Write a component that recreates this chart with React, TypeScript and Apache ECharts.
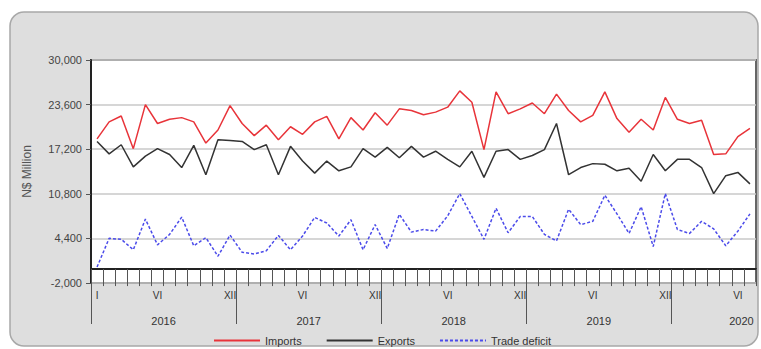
import React, { useEffect, useRef } from "react";
import * as echarts from "echarts";

const years = [2016, 2017, 2018, 2019, 2020];
const romanMonths = ["I", "II", "III", "IV", "V", "VI", "VII", "VIII", "IX", "X", "XI", "XII"];
const monthCount = 55; // Jan 2016 .. Jul 2020

const imports = [
  18690, 21120, 21960, 17280, 23600, 20890, 21490, 21730, 21120, 18080, 19950, 23460,
  20890, 19150, 20650, 18550, 20420, 19340, 21120, 21920, 18690, 21730, 19950, 22430,
  20650, 22990, 22760, 22150, 22520, 23230, 25570, 23930, 17140, 25430, 22290, 22990,
  23830, 22290, 25100, 22760, 21120, 22060, 25430, 21590, 19620, 21490, 19950, 24630,
  21490, 20890, 21350, 16440, 16530, 19010, 20180,
];
const exportsData = [
  18310, 16530, 17840, 14660, 16210, 17280, 16440, 14570, 17750, 13540, 18550, 18450,
  18310, 17140, 17840, 13540, 17610, 15500, 13770, 15500, 14100, 14660, 17280, 16070,
  17470, 15970, 17610, 16070, 16910, 15740, 14660, 16910, 13160, 16910, 17140, 15740,
  16300, 17140, 20890, 13540, 14570, 15130, 15040, 14100, 14470, 12600, 16440, 14100,
  15740, 15740, 14570, 10820, 13400, 13870, 12230,
];
const tradeDeficit = [
  290, 4410, 4270, 2770, 7170, 3480, 4970, 7450, 3340, 4510, 1840, 4880,
  2400, 2170, 2630, 4830, 2770, 4740, 7410, 6610, 4740, 7080, 2770, 6380,
  2960, 7850, 5300, 5680, 5440, 7640, 10820, 7550, 4270, 8720, 5210, 7550,
  7550, 4970, 4040, 8580, 6380, 6850, 10590, 7920, 5110, 8950, 3240, 10820,
  5680, 5110, 6850, 5770, 3340, 5440, 7920,
];

const yTickMin = -2000;
const yTickMax = 30000;
const yTickStep = 6400;
const yearTickPositions = [0, 12, 24, 36, 48];
const yearLabelPositions = [6, 18, 30, 42, 53.8];
const monthLabelMonths = [5, 11];

const FONT = "Liberation Sans, Arial, Helvetica, sans-serif";

export default function App() {
  const ref = useRef<HTMLDivElement>(null);
  useEffect(() => {
    if (!ref.current) return;
    const chart = echarts.init(ref.current, undefined, { renderer: "svg" });
    const categories: string[] = [];
    for (let i = 0; i < monthCount; i++) {
      categories.push(years[Math.floor(i / 12)] + "-" + romanMonths[i % 12]);
    }
    chart.setOption({
      animation: false,
      backgroundColor: "#ffffff",
      textStyle: { fontFamily: FONT },
      graphic: [
        {
          type: "rect",
          z: -100,
          shape: { x: 10, y: 12, width: 748, height: 334, r: 14 },
          style: { fill: "#dedede", stroke: "#a8a8a8", lineWidth: 1.5 },
        },
      ],
      grid: {
        left: 91,
        top: 60,
        right: 5,
        bottom: 66,
        show: true,
        backgroundColor: "#ffffff",
        borderColor: "#666666",
        borderWidth: 2,
      },
      legend: {
        data: ["Imports", "Exports", "Trade deficit"],
        left: 208,
        top: 330,
        itemWidth: 46,
        itemHeight: 10,
        itemGap: 24,
        itemStyle: { opacity: 0, borderWidth: 0 },
        textStyle: { fontSize: 11, color: "#333", fontFamily: FONT },
      },
      xAxis: [
        {
          type: "category",
          data: categories,
          boundaryGap: true,
          position: "bottom",
          axisLine: { show: true, lineStyle: { color: "#222", width: 2 } },
          axisTick: { show: true, interval: 0, length: 17, lineStyle: { color: "#555", width: 1 } },
          axisLabel: {
            interval: (i: number) => i === 0 || monthLabelMonths.includes(i % 12),
            formatter: (v: string) => v.split("-")[1],
            fontSize: 10,
            color: "#333",
            margin: 7,
            fontFamily: FONT,
          },
          splitLine: { show: false },
        },
        {
          type: "value",
          min: 0,
          max: monthCount,
          position: "bottom",
          axisLine: { show: false },
          splitLine: { show: false },
          axisTick: {
            show: true,
            customValues: yearTickPositions,
            length: 41,
            lineStyle: { color: "#555", width: 1 },
          },
          axisLabel: {
            customValues: yearLabelPositions,
            formatter: (v: number) => String(years[Math.floor(v / 12)]),
            fontSize: 11,
            color: "#333",
            margin: 32,
            fontFamily: FONT,
          },
        },
      ],
      yAxis: {
        type: "value",
        min: yTickMin,
        max: yTickMax,
        interval: yTickStep,
        name: "N$ Million",
        nameLocation: "middle",
        nameGap: 58,
        nameTextStyle: { fontSize: 12, color: "#555", fontFamily: FONT },
        axisLine: { show: true, lineStyle: { color: "#222", width: 2 } },
        axisTick: { show: true, length: 5, lineStyle: { color: "#555" } },
        axisLabel: {
          formatter: (v: number) => v.toLocaleString("en-US"),
          fontSize: 11,
          color: "#444",
          margin: 9,
          fontFamily: FONT,
        },
        splitLine: { show: true, lineStyle: { color: "#c8c8c8", width: 1.5 } },
      },
      series: [
        {
          name: "Imports",
          type: "line",
          data: imports,
          symbol: "none",
          lineStyle: { color: "#e8343a", width: 1.5 },
          itemStyle: { color: "#e8343a" },
        },
        {
          name: "Exports",
          type: "line",
          data: exportsData,
          symbol: "none",
          lineStyle: { color: "#333333", width: 1.5 },
          itemStyle: { color: "#333333" },
        },
        {
          name: "Trade deficit",
          type: "line",
          data: tradeDeficit,
          symbol: "none",
          lineStyle: { color: "#4b4bea", width: 1.5, type: [3, 2] },
          itemStyle: { color: "#4b4bea" },
        },
      ],
    });
    return () => chart.dispose();
  }, []);
  return (
    <div
      ref={ref}
      style={{ position: "fixed", left: 0, top: 0, width: 761, height: 349 }}
    />
  );
}
